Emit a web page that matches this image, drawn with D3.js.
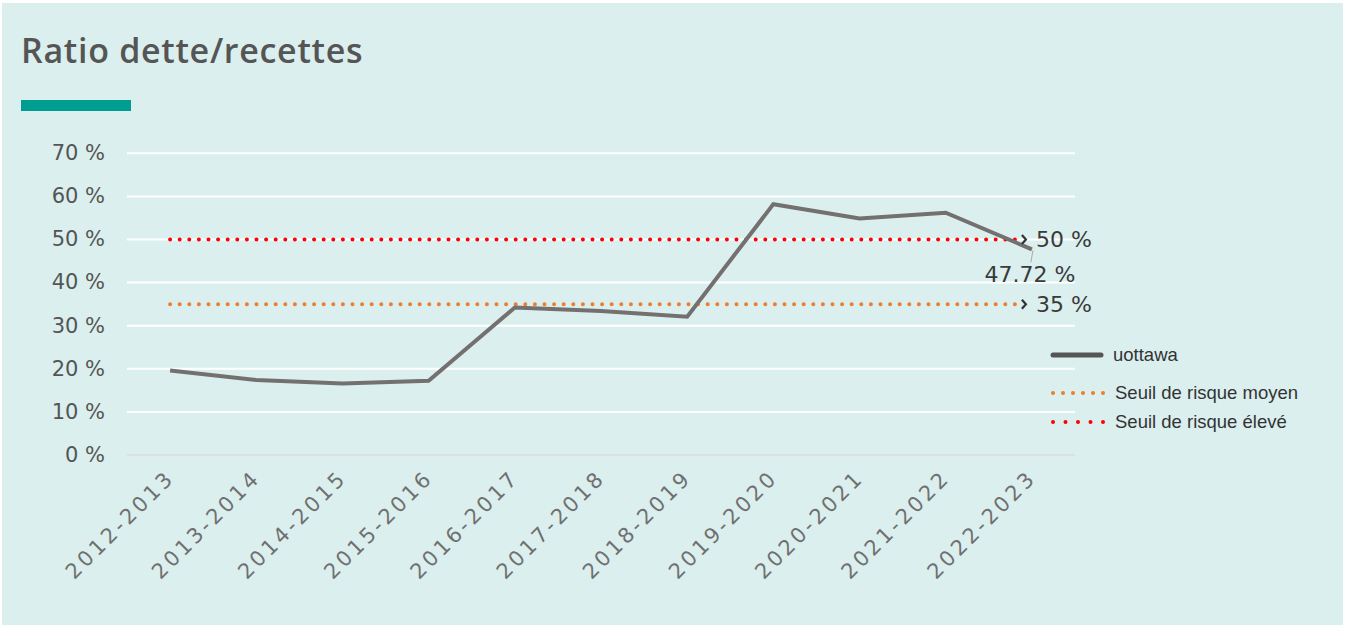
<!DOCTYPE html>
<html><head><meta charset="utf-8">
<script src="https://cdn.jsdelivr.net/npm/d3@7"></script>
<style>
html,body{margin:0;padding:0;background:#fff;}
svg{display:block;}
</style></head>
<body>
<script>
const categories = ["2012-2013","2013-2014","2014-2015","2015-2016","2016-2017","2017-2018","2018-2019","2019-2020","2020-2021","2021-2022","2022-2023"];
const uottawa = [19.6,17.4,16.6,17.2,34.2,33.4,32.1,58.2,54.9,56.2,47.72];
const seuilMoyen = 35;
const seuilEleve = 50;
const yTicks = [0,10,20,30,40,50,60,70];
const legendLabels = ["uottawa","Seuil de risque moyen","Seuil de risque élevé"];

const W = 1346, H = 628;
const svg = d3.select("body").append("svg").attr("width", W).attr("height", H);
svg.append("rect").attr("x",0).attr("y",0).attr("width",W).attr("height",H).attr("fill","#fff");
svg.append("rect").attr("x",2).attr("y",3).attr("width",W-5).attr("height",H-6).attr("fill","#daefee");

const labelFont = "'DejaVu Sans', sans-serif";
svg.append("text").attr("x",21).attr("y",63).text("Ratio dette/recettes")
  .attr("font-family","'Open Sans', sans-serif").attr("font-weight",600).attr("font-size",34)
  .attr("letter-spacing",0.7).attr("fill","#555");
svg.append("rect").attr("x",21).attr("y",100).attr("width",110).attr("height",11).attr("fill","#009e90");

const x0 = 127, x1 = 1075, yTop = 153.3, yBot = 455;
const x = d3.scalePoint().domain(categories).range([x0,x1]).padding(0.5);
const y = d3.scaleLinear().domain([0,70]).range([yBot,yTop]);

// grid
svg.append("g").selectAll("line").data(yTicks).join("line")
  .attr("x1",x0).attr("x2",x1).attr("y1",d=>y(d)).attr("y2",d=>y(d))
  .attr("stroke",d=>d===0?"#e0e0e0":"#ffffff").attr("stroke-width",2);

// y axis
const yAxis = d3.axisLeft(y).tickValues(yTicks).tickFormat(d=>d+" %").tickSize(0).tickPadding(0);
const gy = svg.append("g").attr("transform",`translate(105,0)`).call(yAxis);
gy.select(".domain").remove();
gy.selectAll("text").attr("font-family",labelFont).attr("font-size",21).attr("fill","#555").attr("dy","0.3em");

// x axis
const xAxis = d3.axisBottom(x).tickSize(0).tickPadding(0);
const gx = svg.append("g").attr("transform",`translate(0,${yBot})`).call(xAxis);
gx.select(".domain").remove();
gx.selectAll("text").attr("font-family",labelFont).attr("font-size",21).attr("fill","#707070")
  .attr("letter-spacing",3.2)
  .attr("text-anchor","end").attr("dy",0).attr("y",0)
  .attr("transform","translate(5,24) rotate(-45)");

// thresholds
const lastX = x(categories[categories.length-1]);
const xs = x(categories[0]), xe = lastX - 17;
function dotted(v,color){
  svg.append("line").attr("x1",xs).attr("x2",xe).attr("y1",y(v)).attr("y2",y(v))
    .attr("stroke",color).attr("stroke-width",4).attr("stroke-linecap","round").attr("stroke-dasharray","0 9.6");
}
dotted(seuilMoyen,"#ee7d2e");
dotted(seuilEleve,"#ff0000");

// line
svg.append("path").datum(uottawa.map((v,i)=>[categories[i],v]))
  .attr("d", d3.line().x(d=>x(d[0])).y(d=>y(d[1])))
  .attr("fill","none").attr("stroke","#747070").attr("stroke-width",4).attr("stroke-linejoin","miter");

// annotations
function chevLabel(v){
  const cy = y(v);
  svg.append("path").attr("d",`M${xe+7},${cy-4.5} L${xe+11},${cy} L${xe+7},${cy+4.5}`)
    .attr("fill","none").attr("stroke","#333").attr("stroke-width",2.2);
  svg.append("text").attr("x",xe+21).attr("y",cy).attr("dy","0.35em").text(v+" %")
    .attr("font-family",labelFont).attr("font-size",22).attr("fill","#3a3a3a");
}
chevLabel(seuilEleve);
chevLabel(seuilMoyen);
const lv = uottawa[uottawa.length-1];
svg.append("line").attr("x1",lastX+1).attr("y1",y(lv)+1).attr("x2",lastX-1).attr("y2",y(lv)+13)
  .attr("stroke","#aaaaaa").attr("stroke-width",1);
svg.append("text").attr("x",lastX-2).attr("y",y(lv)+33).attr("text-anchor","middle").text(lv+" %")
  .attr("font-family",labelFont).attr("font-size",22).attr("fill","#3a3a3a");

// legend
const lg = svg.append("g");
const legY = [355,393,422];
lg.append("line").attr("x1",1053).attr("x2",1101).attr("y1",legY[0]).attr("y2",legY[0])
  .attr("stroke","#555").attr("stroke-width",5).attr("stroke-linecap","round");
[["#ee7d2e",1],["#ff0000",2]].forEach(([c,i])=>{
  lg.append("line").attr("x1",1053).attr("x2",1105).attr("y1",legY[i]).attr("y2",legY[i])
    .attr("stroke",c).attr("stroke-width",4).attr("stroke-linecap","round").attr("stroke-dasharray", i===1?"0 10":"0 12.5");
});
lg.selectAll("text").data(legendLabels).join("text")
  .attr("x",(d,i)=>i===0?1113:1115).attr("y",(d,i)=>legY[i]).attr("dy","0.35em").text(d=>d)
  .attr("font-family","'Liberation Sans Narrow', 'Liberation Sans', sans-serif").attr("font-size",18.5).attr("fill","#333");
</script>
</body></html>
